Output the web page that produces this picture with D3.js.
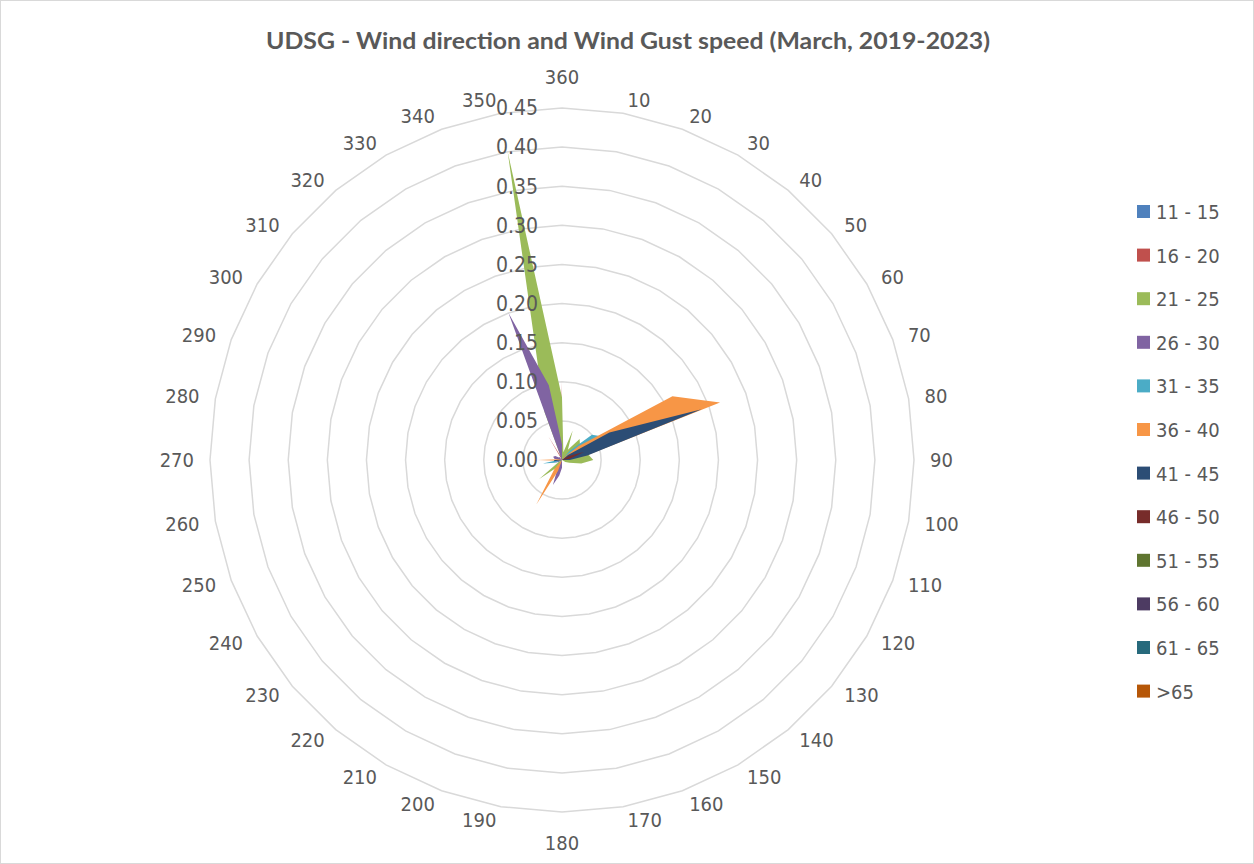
<!DOCTYPE html>
<html>
<head>
<meta charset="utf-8">
<script src="https://cdn.jsdelivr.net/npm/d3@7"></script>
<style>
  html, body { margin: 0; padding: 0; background: #fff; }
  svg { display: block; }
</style>
</head>
<body>
<svg id="chart" width="1254" height="864"></svg>
<script>
// ---- data ----
const title = "UDSG - Wind direction and Wind Gust speed (March, 2019-2023)";
const categories = ["360","10","20","30","40","50","60","70","80","90","100","110","120","130","140","150","160","170","180","190","200","210","220","230","240","250","260","270","280","290","300","310","320","330","340","350"];
const valueTicks = [0, 0.05, 0.10, 0.15, 0.20, 0.25, 0.30, 0.35, 0.40, 0.45];
const seriesNames = ["11 - 15","16 - 20","21 - 25","26 - 30","31 - 35","36 - 40","41 - 45","46 - 50","51 - 55","56 - 60","61 - 65",">65"];
const seriesColors = ["#4F81BD","#C0504D","#9BBB59","#8064A2","#4BACC6","#F79646","#2C4D75","#772C2A","#5F7530","#4D3B62","#276A7C","#B65708"];

//                360  10   20    30    40    50    60    70    80    90   100   110   120  130 140 150 160 170  180   190   200   210   220   230   240   250   260   270   280   290   300   310   320   330   340   350
const s11_15 = [0.005,0,   0,    0,    0.005,0.01, 0.02, 0.02, 0.01, 0.005,0,    0,    0,   0,  0,  0,  0,  0,   0,    0,    0,    0,    0,    0,    0,    0,    0.005,0.005,0,    0,    0,    0,    0,    0,    0.005,0.01];
const s16_20 = [0.10, 0,   0,    0,    0,    0,    0.01, 0.02, 0.01, 0,    0,    0,    0,   0,  0,  0,  0,  0,   0.005,0,    0,    0,    0,    0,    0,    0,    0,    0.005,0,    0,    0,    0,    0,    0.035,0.005,0.01];
const s21_25 = [0.08, 0.01,0.04, 0.015,0.035,0.03, 0.03, 0.03, 0.035,0.04, 0.025,0.01, 0.005,0,  0,  0,  0,  0,   0.04, 0,    0,    0.01, 0.015,0.038,0.005,0,    0,    0,    0,    0,    0,    0,    0,    0,    0.065,0.40];
const s26_30 = [0.02, 0,   0,    0,    0,    0,    0,    0,    0,    0,    0,    0,    0,   0,  0,  0,  0,  0,   0.01, 0.02, 0.034,0.01, 0,    0,    0.005,0.01, 0.005,0.005,0.01, 0.012,0.01, 0.005,0.005,0,    0.20, 0.097];
const s31_35 = [0,    0,   0,    0,    0.015,0.05, 0.06, 0.04, 0.02, 0,    0,    0,    0,   0,  0,  0,  0,  0,   0,    0,    0,    0,    0,    0,    0,    0.01, 0.025,0.005,0,    0,    0,    0,    0,    0,    0,    0];
const s36_40 = [0,    0,   0,    0,    0.005,0.028,0.163,0.215,0.03, 0,    0,    0,    0,   0,  0,  0,  0,  0,   0,    0,    0.015,0.066,0.015,0,    0,    0,    0.005,0.031,0.005,0,    0,    0,    0,    0,    0,    0];
const s41_45 = [0,    0,   0,    0,    0,    0.01, 0.07, 0.19, 0.033,0.01, 0,    0,    0,   0,  0,  0,  0,  0,   0,    0,    0,    0,    0,    0,    0,    0,    0.01, 0.01, 0,    0,    0,    0,    0,    0,    0,    0];
const s46_50 = [0,    0,   0,    0,    0,    0,    0.01, 0.03, 0.01, 0,    0,    0,    0,   0,  0,  0,  0,  0,   0,    0,    0,    0,    0,    0,    0,    0.005,0,    0,    0,    0,    0,    0,    0,    0,    0,    0];
const s51_55 = [0,    0,   0,    0,    0,    0,    0,    0.01, 0,    0,    0,    0,    0,   0,  0,  0,  0,  0,   0,    0,    0,    0,    0,    0,    0,    0,    0,    0,    0,    0,    0,    0,    0,    0,    0,    0];
const s56_60 = [0,    0,   0,    0,    0,    0,    0,    0.005,0,    0,    0,    0,    0,   0,  0,  0,  0,  0,   0,    0,    0,    0,    0,    0,    0,    0,    0,    0,    0,    0,    0,    0,    0,    0,    0,    0];
const s61_65 = [0,    0,   0,    0,    0,    0,    0,    0,    0,    0,    0,    0,    0,   0,  0,  0,  0,  0,   0,    0,    0,    0,    0,    0,    0,    0,    0,    0,    0,    0,    0,    0,    0,    0,    0,    0];
const s65up  = [0,    0,   0,    0,    0,    0,    0,    0,    0,    0,    0,    0,    0,   0,  0,  0,  0,  0,   0,    0,    0,    0,    0,    0,    0,    0,    0,    0,    0,    0,    0,    0,    0,    0,    0,    0];

const seriesValues = [s11_15,s16_20,s21_25,s26_30,s31_35,s36_40,s41_45,s46_50,s51_55,s56_60,s61_65,s65up];

// ---- layout ----
const W = 1254, H = 864;
const cx = 562, cy = 460, R = 352;
const labelFont = "'Liberation Sans Narrow','DejaVu Sans Condensed','Liberation Sans',sans-serif";
const textColor = "#595959";

const svg = d3.select("#chart");
svg.append("rect").attr("x",0.5).attr("y",0.5).attr("width",W-1).attr("height",H-1)
  .attr("fill","#fff").attr("stroke","#d9d9d9").attr("stroke-width",1);

svg.append("text").attr("x",628).attr("y",49).attr("text-anchor","middle")
  .attr("font-family","Lato, 'Open Sans', sans-serif").attr("font-weight","bold")
  .attr("font-size",23).attr("fill",textColor)
  .attr("textLength",724).attr("lengthAdjust","spacingAndGlyphs")
  .text(title);

const r = d3.scaleLinear().domain([0, 0.45]).range([0, R]);
const angle = d3.scaleBand().domain(categories).range([0, 2*Math.PI]).align(0).paddingInner(0).paddingOuter(0);
const ang = c => angle(c);

const g = svg.append("g").attr("transform", `translate(${cx},${cy})`);

// gridline polygons
const ringLine = d3.lineRadial().angle(d => ang(d.c)).radius(d => r(d.v)).curve(d3.curveLinearClosed);
valueTicks.slice(1).forEach(t => {
  g.append("path").attr("d", ringLine(categories.map(c => ({c, v:t}))))
    .attr("fill","none").attr("stroke","#d9d9d9").attr("stroke-width",1.5);
});

// series
const areaLine = d3.lineRadial().angle(d => ang(d.c)).radius(d => r(d.v)).curve(d3.curveLinearClosed);
seriesValues.forEach((vals, i) => {
  g.append("path").attr("d", areaLine(categories.map((c, j) => ({c, v: vals[j]}))))
    .attr("fill", seriesColors[i]).attr("stroke","none");
});

// value axis labels
valueTicks.forEach(t => {
  g.append("text").attr("x",-24).attr("y",-r(t)).attr("dy","0.35em")
    .attr("text-anchor","end").attr("font-family",labelFont).attr("font-size",21)
    .attr("fill",textColor).text(d3.format(".2f")(t));
});

// category labels
categories.forEach(c => {
  const a = ang(c);
  const sx = Math.sin(a), sy = -Math.cos(a);
  const rr = R + 14;
  const t = g.append("text").attr("font-family",labelFont).attr("font-size",20)
    .attr("fill",textColor).text(c);
  const w = t.node().getComputedTextLength();
  let x, y;
  if (Math.abs(sx) < 1e-6) {
    x = 0; y = sy * (rr + 17);
  } else {
    x = sx * rr + Math.sign(sx) * (w/2 + 2);
    y = sy * rr;
  }
  t.attr("x", x).attr("y", y).attr("dy","0.35em").attr("text-anchor","middle");
});

// legend
const lg = svg.append("g");
seriesNames.forEach((n, i) => {
  const y = 212 + i*43.6;
  lg.append("rect").attr("x",1137).attr("y",y-7).attr("width",13).attr("height",13).attr("fill",seriesColors[i]);
  lg.append("text").attr("x",1156).attr("y",y).attr("dy","0.35em")
    .attr("font-family",labelFont).attr("font-size",20).attr("fill",textColor).text(n);
});
</script>
</body>
</html>
